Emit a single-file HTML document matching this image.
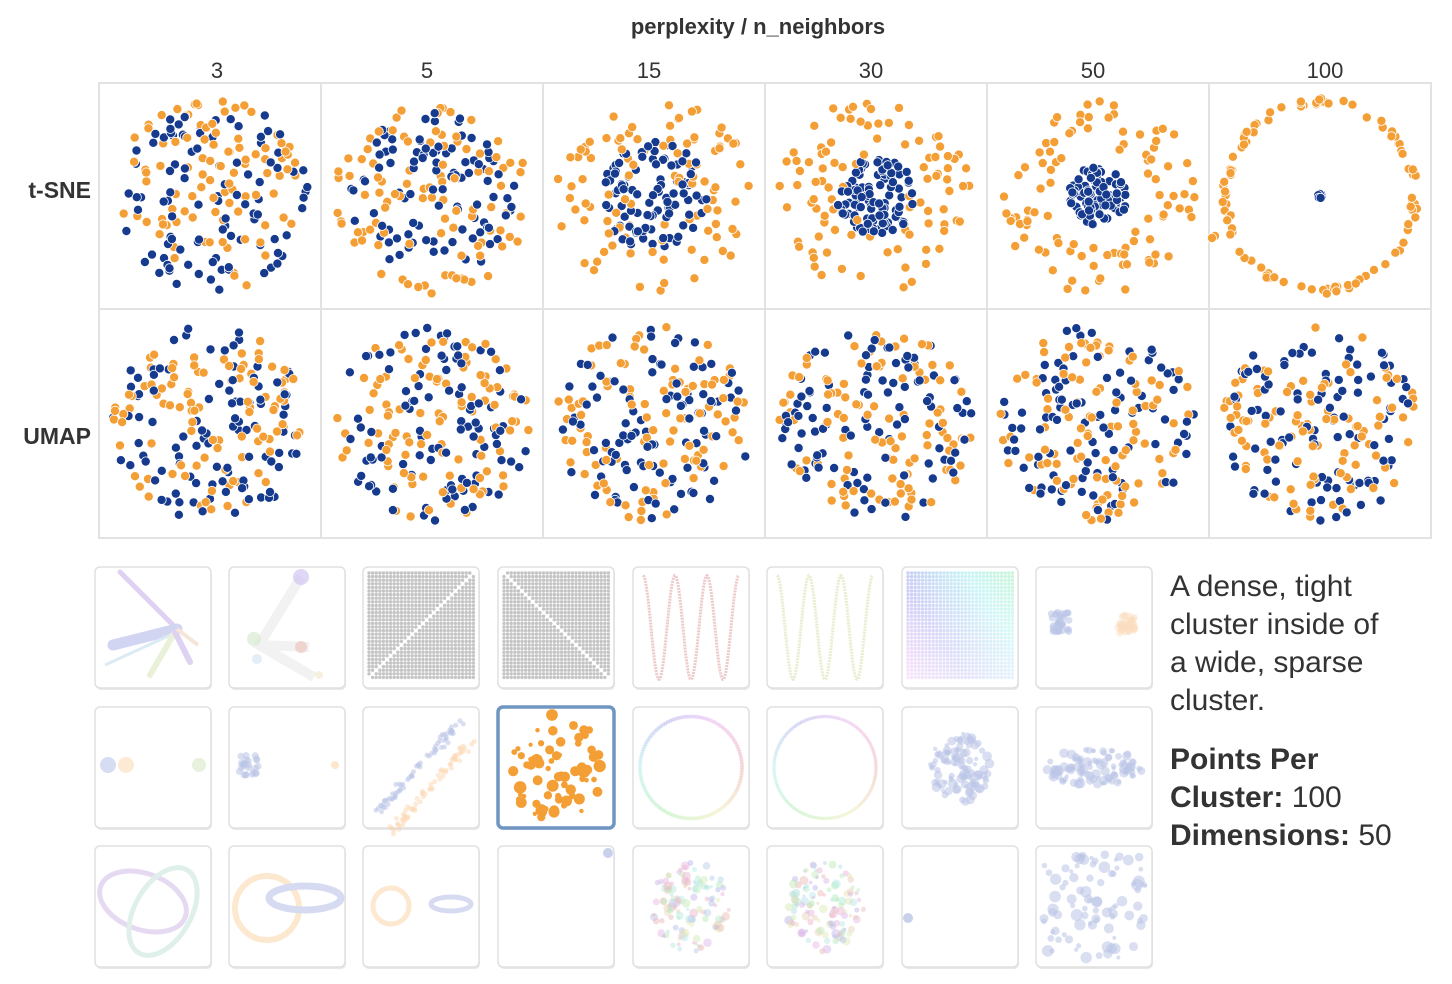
<!DOCTYPE html>
<html><head><meta charset="utf-8">
<style>
body{margin:0;background:#fff;font-family:"Liberation Sans",sans-serif;color:#333;}
svg{display:block}
</style></head>
<body>
<svg id="chart" width="1452" height="984" viewBox="0 0 1452 984" xmlns="http://www.w3.org/2000/svg">
<text x="758" y="34" text-anchor="middle" font-size="22" font-weight="bold" fill="#333">perplexity / n_neighbors</text>
<text x="91" y="198" text-anchor="end" font-size="23" font-weight="bold" fill="#333">t-SNE</text>
<text x="91" y="444" text-anchor="end" font-size="23" font-weight="bold" fill="#333">UMAP</text>
<g id="grid"></g>
<g id="thumbs"></g>
<text font-size="30" fill="#333">
<tspan x="1170" y="596">A dense, tight</tspan><tspan x="1170" y="634">cluster inside of</tspan><tspan x="1170" y="672">a wide, sparse</tspan><tspan x="1170" y="710">cluster.</tspan></text>
<text font-size="30" fill="#333">
<tspan x="1170" y="769" font-weight="bold">Points Per</tspan><tspan x="1170" y="807" font-weight="bold">Cluster: </tspan><tspan>100</tspan><tspan x="1170" y="845" font-weight="bold">Dimensions: </tspan><tspan>50</tspan></text>
</svg>
<script>
const columnLabels=["3","5","15","30","50","100"];
const rowLabels=["t-SNE","UMAP"];
const tsneBlueSpread=[1.0,0.85,0.55,0.4,0.3,0.02];
const tsneOrangeInner=[0,0,0.2,0.3,0.5,0.95];
const umapBlueSpread=[1,1,1,1,1,1];
const umapOrangeInner=[0,0,0,0,0,0];
const pointsPerCluster=100;

const NS="http://www.w3.org/2000/svg";
let seed=7;function rnd(){seed=(seed*16807)%2147483647;return (seed-1)/2147483646;}
function mk(tag,attrs,parent){const e=document.createElementNS(NS,tag);for(const k in attrs)e.setAttribute(k,attrs[k]);parent.appendChild(e);return e;}
const grid=document.getElementById('grid');
const gx0=99,gy0=83,cw=222,ch=[226,229];
function xScale(i){return gx0+i*cw;}
columnLabels.forEach((l,i)=>{
  const t=mk('text',{x:xScale(i)+(i==0?118:i==5?116:cw/2-5),y:78,'text-anchor':'middle','font-size':22,fill:'#333'},document.getElementById('chart'));
  t.textContent=l;
  
  
});
const spreads=[[tsneBlueSpread,tsneOrangeInner],[umapBlueSpread,umapOrangeInner]];
for(let r=0;r<2;r++){
  const top=r==0?gy0:gy0+ch[0];
  for(let c=0;c<6;c++){
    const g=mk('g',{},grid);
    
    
    mk('rect',{x:xScale(c),y:top,width:cw,height:ch[r],fill:'#fff',stroke:'#e2e2e2','stroke-width':2},g);
    const cx=xScale(c)+cw/2,cy=top+ch[r]/2,R=98;
    const pts=[];
    const bs=spreads[r][0][c],oi=spreads[r][1][c];
    for(let k=0;k<pointsPerCluster;k++){
      let a=rnd()*6.283,d;
      if(oi>0.9){d=R*(0.93+rnd()*0.07);} else d=R*Math.sqrt(oi*oi+(1-oi*oi)*rnd());
      pts.push([cx+Math.cos(a)*d,cy+Math.sin(a)*d,'#f49f36']);
      a=rnd()*6.283;d=R*bs*Math.sqrt(rnd());
      if(bs<0.05)d=2;
      pts.push([cx+Math.cos(a)*d,cy+Math.sin(a)*d,'#163b8e']);
    }
    if(r==0&&c==5){pts.push([cx-105,cy+40,'#f49f36']);pts.push([cx-108,cy+42,'#f49f36']);}
    pts.sort(()=>rnd()-0.5).forEach(p=>{
      const e=mk('circle',{cx:p[0].toFixed(1),cy:p[1].toFixed(1),r:4.6,fill:p[2],stroke:'#fff','stroke-width':0.8},g);
      
      
    });
  }
}
const thumbX=[95,229,363,498,633,767,902,1036],thumbY=[567,707,846],tw=116,th=121;
const th_g=document.getElementById('thumbs');
const thumbNames=[["star-lines","linked-clusters","grid-antidiagonal","grid-diagonal","sine-pink","sine-green","color-grid","two-clusters"],
["three-clusters","two-far-clusters","parallel-lines","wide-sparse-selected","rainbow-circle","dotted-circle","blue-blob","elongated-blob"],
["linked-rings","unlinked-rings","small-rings","corner-point","mixed-blob","mixed-sparse-blob","single-dot","random-squares"]];
function dot(g,x,y,r,f,o){mk('circle',{cx:x,cy:y,r:r,fill:f,'fill-opacity':o===undefined?0.4:o},g);}
for(let r=0;r<3;r++)for(let c=0;c<8;c++){
  const x=thumbX[c],y=thumbY[r];
  const g=mk('g',{},th_g);
  
  
  const sel=(r==1&&c==3);
  mk('rect',{x:x+1,y:y+2,width:tw,height:th,rx:5,fill:'#e8e8e8'},g);
  mk('rect',{x:x,y:y,width:tw,height:th,rx:5,fill:'#fff',stroke:sel?'#6f96c2':'#e0e0e0','stroke-width':sel?3.5:1.5},g);
  const cx=x+tw/2,cy=y+th/2;
  const key=thumbNames[r][c];
  const cg=mk('g',{opacity:sel?1:0.8},g);
  if(key=="star-lines"){
    mk('line',{x1:x+25,y1:y+5,x2:x+82,y2:y+62,stroke:'#d6c6ee','stroke-width':5,'stroke-linecap':'round'},cg);
    mk('line',{x1:x+18,y1:y+78,x2:x+82,y2:y+62,stroke:'#c6cbee','stroke-width':11,'stroke-linecap':'round'},cg);
    mk('line',{x1:x+10,y1:y+98,x2:x+82,y2:y+65,stroke:'#d3e7f2','stroke-width':3},cg);
    mk('line',{x1:x+55,y1:y+108,x2:x+80,y2:y+65,stroke:'#e6eed0','stroke-width':6,'stroke-linecap':'round'},cg);
    mk('line',{x1:x+80,y1:y+65,x2:x+95,y2:y+95,stroke:'#d6c8f0','stroke-width':6,'stroke-linecap':'round'},cg);
    mk('line',{x1:x+82,y1:y+62,x2:x+103,y2:y+78,stroke:'#f4e0d2','stroke-width':4},cg);
  } else if(key=="linked-clusters"){
    mk('path',{d:`M${x+72} ${y+10} L${x+30} ${y+78} L${x+85} ${y+110} M${x+30} ${y+78} L${x+80} ${y+80}`,stroke:'#f0f0f0','stroke-width':10,fill:'none'},cg);
    dot(cg,x+72,y+10,8,'#c4b6ec',0.7);dot(cg,x+25,y+72,7,'#cfe6c4',0.7);dot(cg,x+72,y+80,6,'#e8b8b0',0.7);dot(cg,x+28,y+92,5,'#cde0f0',0.7);dot(cg,x+90,y+108,4,'#efe4c0',0.7);
  } else if(key=="grid-antidiagonal"||key=="grid-diagonal"||key=="color-grid"){
    const n=30;
    for(let i=0;i<n;i++)for(let j=0;j<n;j++){
      if(key=="grid-antidiagonal"&&i+j==n-1)continue;
      if(key=="grid-diagonal"&&i==j)continue;
      let f='#aaa',o=0.85;
      if(key=="color-grid"){f=`hsl(${230-i*3+j*2},70%,${72+j*0.5}%)`;o=0.55;}
      mk('circle',{cx:x+6+i*3.6,cy:y+6+j*3.6,r:1.7,fill:f,'fill-opacity':o},cg);
    }
  } else if(key=="sine-pink"||key=="sine-green"){
    let d='';for(let i=0;i<=100;i++){const px=x+10+i*0.96;const py=cy+Math.cos(i/100*6.283*3)*(-52);d+=(i?'L':'M')+px.toFixed(1)+' '+py.toFixed(1);}
    mk('path',{d:d,stroke:key=="sine-pink"?'#e8bcbc':'#e2e8c2','stroke-width':3,fill:'none','stroke-dasharray':'2 1'},cg);
  } else if(key=="two-clusters"){
    for(let k=0;k<40;k++){dot(cg,x+15+rnd()*18,y+45+rnd()*20,3.5,'#a9b6e0',0.55);dot(cg,x+82+rnd()*18,y+48+rnd()*20,3.5,'#f9d6b0',0.55);}
  } else if(key=="three-clusters"){
    dot(cg,x+13,y+58,8,'#b5c0e6',0.7);dot(cg,x+31,y+58,8,'#fbd8b4',0.7);dot(cg,x+104,y+58,7,'#d3e5c3',0.7);
  } else if(key=="two-far-clusters"){
    for(let k=0;k<25;k++)dot(cg,x+10+rnd()*20,y+48+rnd()*20,3.5,'#a9b6e0',0.55);dot(cg,x+106,y+58,4,'#fbd8b4',0.8);
  } else if(key=="parallel-lines"){
    for(let k=0;k<70;k++){const t=rnd();dot(cg,x+10+t*85+rnd()*8,y+100-t*90+rnd()*8,2.5,'#a9b6e0',0.55);dot(cg,x+25+t*80+rnd()*8,y+120-t*90+rnd()*8,2.5,'#fbd0a4',0.55);}
  } else if(key=="wide-sparse-selected"){
    for(let k=0;k<70;k++){const a=rnd()*6.283,d=55*Math.sqrt(rnd());dot(cg,cx+Math.cos(a)*d*0.85,cy+Math.sin(a)*d,2+rnd()*4.5,'#f49f36',1);}
  } else if(key=="rainbow-circle"||key=="dotted-circle"){
    for(let i=0;i<120;i++){const a=i/120*6.283;mk('circle',{cx:cx+Math.cos(a)*51,cy:cy+Math.sin(a)*51,r:key=="rainbow-circle"?2:1.8,fill:`hsl(${i*3},60%,78%)`,'fill-opacity':0.45},cg);}
  } else if(key=="blue-blob"||key=="elongated-blob"){
    const sx=key=="blue-blob"?30:50,sy=key=="blue-blob"?35:18;
    for(let k=0;k<110;k++){const a=rnd()*6.283,d=Math.sqrt(rnd());dot(cg,cx+Math.cos(a)*d*sx,cy+Math.sin(a)*d*sy,2+rnd()*3,'#a9b6e0',0.55);}
  } else if(key=="linked-rings"){
    mk('ellipse',{cx:cx-10,cy:cy-5,rx:45,ry:28,transform:`rotate(20 ${cx-10} ${cy-5})`,fill:'none',stroke:'#e0d0f0','stroke-width':5},cg);
    mk('ellipse',{cx:cx+10,cy:cy+5,rx:28,ry:48,transform:`rotate(30 ${cx+10} ${cy+5})`,fill:'none',stroke:'#d6ede4','stroke-width':5},cg);
  } else if(key=="unlinked-rings"){
    mk('circle',{cx:x+38,cy:y+62,r:32,fill:'none',stroke:'#fbe3c4','stroke-width':6},cg);
    mk('ellipse',{cx:x+76,cy:y+52,rx:36,ry:12,fill:'none',stroke:'#ccd3ee','stroke-width':7},cg);
  } else if(key=="small-rings"){
    mk('circle',{cx:x+28,cy:y+60,r:18,fill:'none',stroke:'#fbe3c4','stroke-width':5},cg);
    mk('ellipse',{cx:x+88,cy:y+58,rx:20,ry:7,fill:'none',stroke:'#ccd3ee','stroke-width':5},cg);
  } else if(key=="corner-point"){
    dot(cg,x+110,y+7,5,'#a9b6e0',0.8);
  } else if(key=="mixed-blob"||key=="mixed-sparse-blob"){
    for(let k=0;k<120;k++){const a=rnd()*6.283,d=Math.sqrt(rnd());dot(cg,cx+Math.cos(a)*d*40,cy+Math.sin(a)*d*45,1.5+rnd()*3,`hsl(${rnd()*360},55%,78%)`,0.5);}
  } else if(key=="single-dot"){
    dot(cg,x+6,y+72,5,'#a9b6e0',0.8);
  } else if(key=="random-squares"){
    for(let k=0;k<90;k++)dot(cg,x+6+rnd()*104,y+6+rnd()*108,2+rnd()*4,'#a9b6e0',0.55);
  }
}
</script>
</body></html>
